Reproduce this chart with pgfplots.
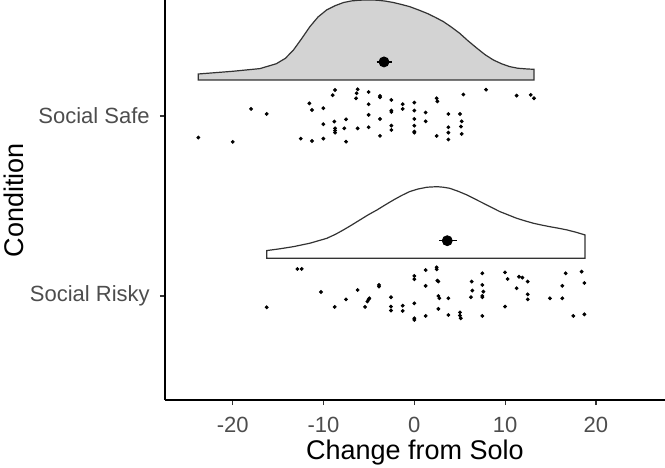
\documentclass[border=0pt]{standalone}
\usepackage{pgfplots}
\pgfplotsset{compat=1.18}
\usepackage{fontspec}
\setmainfont{Liberation Sans}
\definecolor{ticklab}{HTML}{4D4D4D}
\definecolor{tickcol}{HTML}{333333}
\definecolor{violinfill}{HTML}{D3D3D3}
\definecolor{violinline}{HTML}{333333}
\begin{document}
\begin{tikzpicture}
\begin{axis}[
  scale only axis,
  width=250pt, height=200pt,
  xmin=-27.46, xmax=27.61,
  ymin=0.422, ymax=2.644,
  axis x line*=bottom, axis y line*=left,
  axis line style={black, line width=0.75pt},
  tick align=outside,
  major tick length=2.6pt,
  tick style={tickcol, line width=0.6pt},
  xtick={-20,-10,0,10,20},
  xticklabels={-20,-10,0,10,20},
  ytick={1,2},
  yticklabels={Social Risky,Social Safe},
  ticklabel style={font=\fontsize{11}{13}\selectfont, text=ticklab},
  xticklabel style={yshift=-2.5pt},
  yticklabel style={xshift=-1.5pt},
  xlabel={Change from Solo},
  ylabel={Condition},
  label style={font=\fontsize{13.5}{16}\selectfont, text=black},
  xlabel style={yshift=3.5pt},
  ylabel style={yshift=-4pt},
  clip=false,
]
% Social Safe density
\addplot[draw=violinline, fill=violinfill, line width=0.6pt] coordinates {
(-23.79,2.2) (-23.79,2.233) (-20,2.248) (-17,2.263) (-15.2,2.290) (-14.2,2.320)
(-13.3,2.367) (-12.4,2.430) (-11.5,2.496) (-10.6,2.550) (-9.65,2.589) (-8.7,2.613)
(-7.8,2.630) (-6.9,2.639) (-6.0,2.643) (-5.0,2.644) (-4.1,2.643) (-3.2,2.638)
(-2.3,2.630) (-1.4,2.619) (-0.5,2.607) (0.4,2.590) (1.4,2.570) (2.3,2.548)
(3.2,2.524) (4.1,2.493) (5.0,2.459) (5.9,2.418) (6.9,2.376) (7.8,2.340)
(8.7,2.311) (9.6,2.290) (10.5,2.274) (11.4,2.265) (12.4,2.261) (13.18,2.259)
(13.18,2.2)} -- cycle;
% Social Risky density
\addplot[draw=violinline, fill=white, line width=0.6pt] coordinates {
(-16.26,1.209) (-16.26,1.252) (-14.8,1.262) (-13.3,1.274) (-11.5,1.293) (-9.65,1.320)
(-8.7,1.342) (-7.8,1.367) (-6.9,1.394) (-6.0,1.422) (-5.1,1.450) (-4.1,1.478)
(-3.2,1.506) (-2.3,1.533) (-1.4,1.558) (-0.5,1.580) (0.4,1.594) (1.4,1.604)
(2.5,1.607) (3.2,1.604) (3.9,1.598) (4.8,1.582) (5.8,1.561) (6.7,1.538)
(7.6,1.515) (8.5,1.492) (9.4,1.469) (10.4,1.449) (11.3,1.431) (12.2,1.417)
(13.1,1.404) (14.0,1.394) (14.9,1.385) (15.9,1.376) (16.8,1.367) (17.8,1.354)
(18.8,1.339) (18.8,1.209)} -- cycle;
% Safe raw points
\addplot[only marks, mark=*, mark size=0.75pt, black] coordinates {
(-23.79,1.880) (-20.00,1.856) (-17.98,2.039) (-16.26,2.011) (-12.51,1.874) (-11.56,2.070)
(-11.27,2.033) (-11.27,1.861) (-10.02,2.043) (-10.02,1.954) (-10.02,1.874) (-8.73,2.144)
(-8.99,2.115) (-8.81,1.969) (-8.73,1.931) (-8.73,1.919) (-8.73,1.907) (-7.71,1.931)
(-7.52,1.981) (-7.52,1.857) (-6.24,2.148) (-6.35,2.126) (-6.42,2.098) (-6.24,1.931)
(-5.03,2.133) (-5.03,2.065) (-5.03,2.006) (-5.03,1.937) (-3.78,2.111) (-3.78,2.104)
(-3.78,1.983) (-3.78,1.889) (-2.53,2.089) (-2.53,2.030) (-2.53,2.022) (-2.53,1.946)
(-2.53,1.922) (-1.28,2.065) (-1.28,2.039) (0.00,2.074) (0.00,2.030) (0.00,1.983)
(0.00,1.946) (0.00,1.913) (0.00,1.907) (1.25,2.019) (1.25,1.970) (2.46,2.098)
(2.54,2.081) (2.46,1.889) (3.75,2.011) (3.75,1.937) (3.75,1.907) (3.75,1.869)
(5.03,2.011) (5.22,1.970) (5.14,1.941) (5.22,1.900) (5.40,2.119) (7.90,2.146)
(11.27,2.113) (12.82,2.117) (13.18,2.098)};
% Risky raw points
\addplot[only marks, mark=*, mark size=0.75pt, black] coordinates {
(-16.26,0.937) (-12.88,1.150) (-12.40,1.150) (-10.28,1.022) (-8.77,0.939) (-7.52,0.981)
(-6.24,1.033) (-5.43,0.939) (-5.17,0.969) (-5.03,0.981) (-4.95,0.987) (-3.89,1.061)
(-3.89,1.052) (-2.57,0.993) (-2.57,0.941) (-2.57,0.919) (-1.28,0.946) (-1.28,0.917)
(0.00,1.111) (0.00,1.093) (0.00,0.959) (0.00,0.876) (0.00,0.867) (1.25,1.144)
(1.25,1.056) (1.25,0.889) (2.46,1.159) (2.46,1.148) (2.54,1.085) (2.65,1.080)
(2.65,1.000) (2.76,0.987) (2.65,0.928) (3.75,0.987) (3.75,0.894) (5.03,0.909)
(5.03,0.891) (5.11,0.876) (6.32,1.080) (6.39,1.030) (6.24,0.993) (7.49,1.126)
(7.49,1.061) (7.60,1.024) (7.49,1.000) (7.49,0.993) (7.49,0.889) (9.99,1.131)
(10.28,1.094) (9.99,0.941) (11.27,1.043) (11.53,1.107) (11.90,1.102) (12.49,1.080)
(12.49,1.009) (12.49,0.981) (14.94,0.987) (16.30,1.056) (16.30,0.987) (16.67,1.126)
(17.51,0.889) (18.43,1.135) (18.73,1.072) (18.73,0.898)};
% Means with error bars
\addplot[line width=0.8pt, black] coordinates {(-4.14,2.30) (-2.49,2.30)};
\addplot[line width=0.8pt, black] coordinates {(2.75,1.307) (4.67,1.307)};
\addplot[only marks, mark=*, mark size=2.5pt, black] coordinates {(-3.34,2.30) (3.63,1.307)};
\coordinate (bbne) at (rel axis cs:1,1);
\coordinate (bbsw) at ([xshift=-82.5pt,yshift=-33.5pt]rel axis cs:0,0);
\end{axis}
\pgfresetboundingbox
\path (bbsw) rectangle (bbne);
\end{tikzpicture}
\end{document}
